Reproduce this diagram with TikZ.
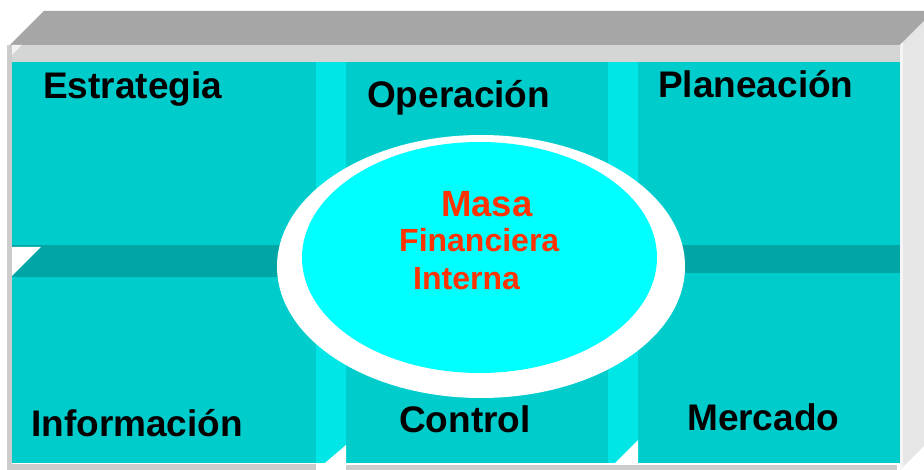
\documentclass[tikz,border=0pt]{standalone}
\usepackage{fontspec}
\setmainfont{Liberation Sans}
\usetikzlibrary{positioning}
\definecolor{roofgray}{HTML}{A6A6A6}
\definecolor{rimgray}{HTML}{D4D6D6}
\definecolor{sidegray}{HTML}{CCCCCC}
\definecolor{wallgray}{HTML}{E6E6E6}
\definecolor{tile}{HTML}{00CCCC}
\definecolor{gapcyan}{HTML}{00E6E6}
\definecolor{ledge}{HTML}{00A6A6}
\definecolor{corecyan}{HTML}{00FFFF}
\definecolor{massred}{HTML}{FF3300}
\tikzset{
  area/.style={anchor=base west, inner sep=0pt, font=\fontsize{37}{40}\selectfont\bfseries},
  mass/.style={anchor=base west, inner sep=0pt, text=massred, font=\fontsize{32}{36}\selectfont\bfseries},
}

\begin{document}
\begin{tikzpicture}[x=1pt, y=-1pt]
  \useasboundingbox (0,0) rectangle (924,470);
  % box frame
  \fill[roofgray] (10,45) -- (44,11) -- (934,11) -- (900,45) -- cycle;
  \fill[wallgray] (900,45) -- (934,11) -- (934,436) -- (900,470) -- cycle;
  \fill[white!92!gray] (900,45) -- (903,42) -- (903,467) -- (900,470) -- cycle;
  \fill[rimgray] (12,45) rectangle (900,62);
  \fill[white!90!gray] (12,45) -- (22,45) -- (12,55) -- cycle;
  \fill[sidegray] (7,45) rectangle (12,470);
  % panels
  \fill[tile] (12,62) rectangle (316,245);
  \fill[tile] (346,62) rectangle (608,463);
  \fill[tile] (638,62) rectangle (900,245);
  \fill[tile] (12,277) rectangle (316,463);
  \fill[tile] (638,273) rectangle (900,463);
  \fill[ledge] (12,245) rectangle (316,277);
  \fill[ledge] (638,245) rectangle (900,273);
  \fill[white] (12,247) -- (41,247) -- (12,276) -- cycle;
  % gaps between columns
  \fill[gapcyan] (316,62) rectangle (346,463);
  \fill[gapcyan] (608,62) rectangle (638,463);
  \fill[white] (325,463) -- (346,463) -- (346,445) -- cycle;
  \fill[white] (615,463) -- (638,463) -- (638,440) -- cycle;
  \fill[sidegray] (12,464) rectangle (316,470);
  \fill[sidegray] (346,465) rectangle (897,470);
  % centre
  \fill[white] (481,266.5) ellipse [x radius=204, y radius=131.5];
  \fill[corecyan] (479.5,257.5) ellipse [x radius=177.5, y radius=115.5];

  \node[area] (estr) at (43,99) {Estrategia};
  \node[area] (oper) at (367,108) {Operación};
  \node[area] (plan) at (658,98) {Planeación};
  \node[area] (info) at (31,436) {Información};
  \node[area] (ctrl) at (399,432) {Control};
  \node[area] (merc) at (687,430) {Mercado};

  \node[mass, font=\fontsize{36.5}{40}\selectfont\bfseries] (masa) at (441,217) {Masa};
  \node[mass] (fin) at (399,252) {Financiera};
  \node[mass] (inter) at (413,290) {Interna};
\end{tikzpicture}
\end{document}
